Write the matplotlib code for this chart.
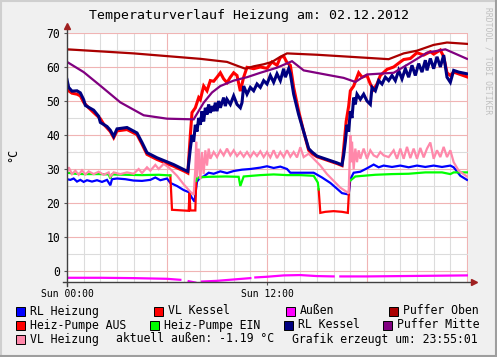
import numpy as np
import matplotlib
matplotlib.use("Agg")
import matplotlib.pyplot as plt
from matplotlib.patches import Rectangle
from matplotlib.lines import Line2D

nan = np.nan

# --- data (hours since midnight, degrees C) ---
puffer_oben_h = [0, 4, 8, 9.6, 10.3, 10.7, 11.2, 11.8, 12.3, 12.8, 13.2, 15, 17, 19.3, 20.2, 21, 22, 22.8, 24]
puffer_oben_v = [65.2, 64.0, 62.4, 61.5, 60.2, 59.5, 60.2, 60.8, 61.5, 63.0, 64.0, 63.6, 63.0, 62.3, 64.0, 64.8, 66.5, 67.2, 66.8]

puffer_mitte_h = [0, 1, 2, 3.2, 4.6, 6, 7.6, 8.2, 8.7, 9.2, 10, 10.8, 11.6, 12.6, 13.5, 14.2, 15.5, 16.6, 17.3,
                  18, 19.6, 20.6, 21.6, 22.7, 24]
puffer_mitte_v = [61.5, 58.5, 54.5, 49.6, 45.8, 44.8, 44.6, 49.5, 52.5, 54.4, 56.0, 57.0, 58.3, 59.8, 61.7, 59.0,
                  57.8, 56.8, 55.6, 57.8, 58.3, 61.2, 64.2, 65.2, 62.4]

rl_kessel_h = [0, 0.1, 0.3, 0.6, 0.8, 1.0, 1.1, 1.6, 1.9, 2.0, 2.4, 2.6, 2.8, 3.0, 3.6, 4.2, 4.5, 4.8, 5.4, 6.4,
               7.1, 7.25, 7.4, 7.5, 7.6, 7.7, 7.8, 7.9, 8.0, 8.1, 8.2, 8.3, 8.4, 8.5, 8.6, 8.7, 8.8, 8.9, 9.0,
               9.1, 9.2, 9.4, 9.5, 9.6, 9.8, 10.0, 10.2, 10.4, 10.5, 10.6, 10.8, 11.0, 11.2, 11.4, 11.6, 11.8,
               12.0, 12.2, 12.4, 12.6, 12.8, 13.0, 13.1, 13.3, 13.4, 13.6, 13.9, 14.2, 14.5, 14.7, 15.0, 15.6,
               16.2, 16.5, 16.6, 16.7, 16.8, 16.9, 17.0, 17.1, 17.2, 17.3, 17.4, 17.6, 17.8, 18.0, 18.2, 18.3,
               18.5, 18.7, 18.9, 19.1, 19.3, 19.5, 19.7, 19.9, 20.1, 20.3, 20.5, 20.7, 20.9, 21.1, 21.3, 21.5,
               21.6, 21.8, 22.0, 22.2, 22.4, 22.6, 22.8, 23.0, 23.2, 23.5, 24]
rl_kessel_v = [56.3, 54.0, 52.9, 53.0, 52.4, 50.4, 48.7, 47.3, 45.5, 43.7, 42.5, 41.4, 39.6, 41.8, 42.2, 40.6,
               37.8, 34.8, 33.3, 31.3, 29.6, 29.3, 36, 40, 38, 43, 41, 45, 43, 47, 44, 48, 46, 49, 46.5, 48.5,
               47, 49.5, 47, 50, 48, 51, 48.5, 50.5, 49, 51.5, 49, 48, 49.5, 54.4, 52, 54, 53, 55, 54, 56, 55,
               57.5, 55.5, 58, 56, 59.5, 57, 59.5, 58, 52, 46, 41, 36, 35, 33.8, 32.8, 31.8, 31.2, 34, 38, 43,
               41, 47, 45, 51, 49, 52, 50.5, 52, 50, 49, 54, 53, 56, 55, 57, 56, 57.5, 56, 59, 56.5, 59.5, 57,
               60.5, 57.5, 61, 58.5, 62, 59, 62.5, 59.5, 63, 60, 63.5, 57, 55.5, 59, 58.5, 58]

vl_kessel_h = [0, 0.1, 0.3, 0.6, 0.8, 1.0, 1.3, 1.6, 2.0, 2.2, 2.6, 2.8, 3.0, 3.6, 4.2, 4.5, 4.8, 5.4, 6.4, 7.1,
               7.25, 7.4, 7.5, 7.7, 7.9, 8.0, 8.2, 8.4, 8.6, 8.8, 9.0, 9.2, 9.4, 9.6, 9.8, 10.0, 10.2, 10.4,
               10.6, 10.8, 11.2, 11.6, 12.0, 12.3, 12.6, 12.8, 13.0, 13.2, 13.4, 13.6, 13.9, 14.2, 14.5, 14.7,
               15.0, 15.6, 16.2, 16.5, 16.6, 16.75, 16.9, 17.0, 17.2, 17.5, 17.7, 18.0, 18.2, 18.4, 18.6, 18.8,
               19.2, 19.6, 20.0, 20.2, 20.6, 21.0, 21.4, 21.8, 22.0, 22.4, 22.6, 22.8, 23.0, 23.2, 24]
vl_kessel_v = [55.0, 53.0, 52.3, 52.0, 51.5, 49.6, 48.0, 46.6, 44.8, 43.2, 41.0, 39.2, 41.2, 41.6, 40.1, 37.3,
               34.3, 32.8, 30.8, 29.2, 28.8, 40, 46.6, 48, 51, 50.4, 54.4, 53, 56, 55.8, 57, 58.3, 56.5, 55.4,
               57, 58.3, 57.5, 52.9, 57, 59.9, 59.5, 60, 59.6, 61.5, 60.5, 62.8, 63.2, 61.3, 60.5, 54, 47, 41,
               35.5, 34.5, 33.6, 32.6, 31.6, 31.0, 36, 44, 48.5, 53, 54.4, 58.3, 57, 57.5, 55, 53.4, 55, 57.5,
               59.3, 60, 61.5, 62.2, 62.5, 64.2, 63.5, 64.5, 63.8, 65, 63, 58.3, 57.5, 58.5, 57.1]

vl_heizung_h = [0, 0.1, 0.3, 0.5, 0.7, 0.9, 1.1, 1.3, 1.6, 1.9, 2.2, 2.5, 2.6, 2.8, 3.2, 3.6, 4.0, 4.3, 4.5, 4.8,
                5.0, 5.3, 5.5, 5.8, 6.1, 6.3, 6.6, 7.0, 7.4, 7.6, 7.7, 7.75, 7.8, 7.9, 8.0, 8.1, 8.2, 8.3, 8.4,
                8.5, 8.6, 8.8, 9.0, 9.2, 9.4, 9.6, 9.8, 10.0, 10.2, 10.4, 10.6, 10.8, 11.0, 11.2, 11.4, 11.6,
                11.8, 12.0, 12.2, 12.4, 12.6, 12.8, 13.0, 13.2, 13.4, 13.6, 13.8, 14.0, 14.2, 14.5, 14.8, 15.2,
                15.6, 16.0, 16.4, 16.8, 16.9, 17.0, 17.05, 17.1, 17.2, 17.3, 17.4, 17.5, 17.6, 17.8, 18.0, 18.2,
                18.4, 18.6, 18.8, 19.0, 19.3, 19.6, 19.8, 20.0, 20.2, 20.4, 20.6, 20.8, 21.0, 21.2, 21.4, 21.6,
                21.8, 22.0, 22.2, 22.4, 22.6, 22.8, 23.0, 23.2, 23.5, 24]
vl_heizung_v = [29, 30.5, 28.5, 29.5, 28.3, 29.6, 28.4, 29.3, 28.5, 29.2, 28.3, 29.0, 27.8, 29.0, 28.5, 29.0,
                28.6, 30.0, 28.8, 30.5, 29.5, 31.2, 30.0, 31.5, 30.5, 29.5, 28.0, 25.5, 23.3, 22.4, 30, 38, 27.5,
                36, 27, 35, 28.5, 35.5, 31, 36, 33, 35, 33.5, 35.5, 34, 36, 34, 35.5, 33.8, 35, 33.6, 35, 33.5,
                35, 33.8, 35.2, 33.5, 35, 33.4, 35.5, 33.2, 35, 33.5, 35.5, 33.6, 35, 33.4, 36.4, 33.5, 34.5,
                33.0, 31, 28.5, 26.5, 24.5, 23.2, 22.8, 40, 32, 38, 30, 36, 32, 35.5, 33, 36, 33, 35.5, 34, 33.5,
                35, 34, 33.5, 35.5, 33, 36, 33, 36.5, 33.2, 36, 33, 36.2, 33.4, 36, 37.8, 33, 35.5, 33.5, 36.5,
                33.5, 35.5, 32, 29.5, 27.8]

rl_heizung_h = [0, 0.2, 0.4, 0.6, 0.8, 1.0, 1.2, 1.5, 1.8, 2.1, 2.4, 2.6, 2.7, 3.0, 3.5, 4.0, 4.5, 5.0, 5.3, 5.6,
                6.0, 6.2, 6.6, 7.0, 7.3, 7.5, 7.65, 7.8, 8.0, 8.2, 8.5, 8.8, 9.2, 9.6, 10.0, 10.5, 11.0, 11.6,
                12.0, 12.4, 12.8, 13.2, 13.4, 14.0, 14.8, 15.3, 15.8, 16.2, 16.5, 16.9, 17.0, 17.2, 17.6, 18.0,
                18.4, 18.7, 19.0, 19.5, 20.0, 20.5, 21.0, 21.5, 22.0, 22.5, 23.0, 23.2, 23.6, 24]
rl_heizung_v = [27, 26.8, 27.2, 26.3, 26.8, 26.2, 26.7, 26.3, 26.7, 26.2, 26.8, 25.2, 27.0, 27.2, 27.0, 26.6,
                26.5, 26.8, 27.5, 26.7, 27.2, 25.9, 25.0, 23.8, 23.2, 21.5, 20.4, 26.3, 27.5, 27.8, 28.9, 28.6,
                29.3, 28.8, 29.4, 29.8, 30.0, 30.4, 30.8, 30.3, 30.7, 30.0, 28.9, 28.9, 28.9, 27.5, 25.9, 24.2,
                22.9, 22.5, 27, 28.9, 29.2, 30.2, 31.3, 30.5, 31.0, 30.6, 31.0, 30.5, 31.0, 30.6, 31.0, 30.6,
                31.0, 30.5, 28, 26.8]

pumpe_ein_h = [0, 0.5, 1.0, 2.0, 2.5, 2.6, 2.7, 3.5, 4.5, 5.5, 6.2, 6.25, 7.75, 7.8, 8.5, 9.5, 10.3, 10.4, 10.6,
               11.6, 12.4, 13.2, 14.0, 14.8, 15.05, 15.1, 15.15, 16.95, 17.3, 18.5, 19.5, 20.5, 21.5, 22.5, 23.0,
               23.2, 24]
pumpe_ein_v = [28.9, 28.6, 28.5, 28.5, 28.4, 27.2, 28.4, 28.3, 28.2, 28.3, 28.1, nan, 26.5, 27.5, 27.7, 27.8,
               27.7, 25.0, 27.8, 28.2, 28.4, 28.2, 28.2, 28.0, 26.0, 24.0, nan, 26.4, 27.8, 28.3, 28.5, 28.6, 29.0,
               29.0, 28.5, 29.0, 29.0]

pumpe_aus_h = [6.2, 6.3, 7.3, 7.35, 7.4, 7.7, 7.75, 7.76, 15.1, 15.2, 15.5, 16.0, 16.5, 16.85, 16.95]
pumpe_aus_v = [28.1, 18.0, 17.7, 23.0, 17.8, 17.8, 26.5, nan, 24.0, 17.1, 17.4, 17.6, 17.4, 17.1, 26.4]

aussen_h = [0, 2, 4, 6, 6.8, 6.9, 7.3, 7.7, 7.8, 8.1, 9, 10, 11, 11.1, 11.3, 12, 13, 14, 15, 16, 16.2, 16.4,
            18, 20, 22, 24]
aussen_v = [-2.0, -2.0, -2.1, -2.3, -2.6, nan, -3.0, -3.4, nan, -3.1, -2.9, -2.5, -2.1, nan, -1.9, -1.7, -1.3,
            -1.2, -1.5, -1.6, nan, -1.6, -1.6, -1.5, -1.4, -1.3]

series = [
    ("RL Heizung", rl_heizung_h, rl_heizung_v, "#0000ff", 1.6),
    ("VL Kessel", vl_kessel_h, vl_kessel_v, "#ff0000", 2.2),
    ("Außen", aussen_h, aussen_v, "#ff00ff", 1.6),
    ("Puffer Oben", puffer_oben_h, puffer_oben_v, "#aa0000", 1.6),
    ("Heiz-Pumpe AUS", pumpe_aus_h, pumpe_aus_v, "#ff0000", 1.6),
    ("Heiz-Pumpe EIN", pumpe_ein_h, pumpe_ein_v, "#00ff00", 1.6),
    ("RL Kessel", rl_kessel_h, rl_kessel_v, "#000080", 2.2),
    ("Puffer Mitte", puffer_mitte_h, puffer_mitte_v, "#800080", 1.6),
    ("VL Heizung", vl_heizung_h, vl_heizung_v, "#ff88aa", 1.6),
]

W, H = 497, 357
mono = "DejaVu Sans Mono"

fig = plt.figure(figsize=(W / 100, H / 100), dpi=100, facecolor="#f0f0f0")
ax = fig.add_axes([67 / W, 1 - 282 / H, 401 / W, 249 / H])
ax.set_facecolor("white")

for name, hh, vv, col, lw in series:
    ax.plot(hh, vv, color=col, lw=lw, solid_joinstyle="miter", zorder=3)

ax.set_xlim(0, 24.06)
ax.set_ylim(-3.24, 70)

ax.set_xticks([0, 12])
ax.set_xticklabels(["Sun 00:00", "Sun 12:00"], fontfamily=mono, fontsize=7)
ax.set_yticks(range(0, 71, 10))
ax.set_yticklabels([str(v) for v in range(0, 71, 10)], fontfamily=mono, fontsize=8.3)
ax.tick_params(axis="both", length=2, width=0.8, color="#555555", pad=3)

# grid lines
for h in range(1, 25):
    c = "#f0b4b4" if h % 6 == 0 else "#dcdcdc"
    ax.axvline(h, color=c, lw=0.8, zorder=1)
for v in range(0, 71, 5):
    c = "#f0b4b4" if v % 10 == 0 else "#dcdcdc"
    ax.axhline(v, color=c, lw=0.8, zorder=1)

for s in ax.spines.values():
    s.set_visible(False)

# axis lines with arrows
ax.plot([0, 0], [-0.015, 1.025], transform=ax.transAxes, color="#404040", lw=1, clip_on=False, zorder=5)
ax.plot([-0.01, 1.01], [0, 0], transform=ax.transAxes, color="#404040", lw=1, clip_on=False, zorder=5)
ax.plot([0], [1.03], marker="^", ms=4, color="#a02020", transform=ax.transAxes, clip_on=False, zorder=6)
ax.plot([1.015], [0], marker=">", ms=4, color="#a02020", transform=ax.transAxes, clip_on=False, zorder=6)

fig.text(249 / W, 1 - 16 / H, "Temperaturverlauf Heizung am: 02.12.2012", ha="center", va="center",
         fontfamily=mono, fontsize=9.5)
fig.text(13 / W, 1 - 155 / H, "°C", rotation=90, ha="center", va="center", fontfamily=mono, fontsize=8.5)
fig.text(488 / W, 1 - 7 / H, "RRDTOOL / TOBI OETIKER", rotation=270, ha="center", va="top",
         fontfamily=mono, fontsize=5.8, color="#c0c0c0")

# legend
legend_pos = [
    (16, 311), (154, 311), (286, 311), (389, 311),
    (16, 325), (150, 325), (284, 325), (383, 325),
    (16, 339),
]
for (name, hh, vv, col, lw), (bx, by) in zip(series, legend_pos):
    fig.add_artist(Rectangle((bx / W, 1 - (by + 4.5) / H), 9 / W, 9 / H, transform=fig.transFigure,
                             facecolor=col, edgecolor="black", lw=0.7))
    fig.text((bx + 14) / W, 1 - by / H, name, ha="left", va="center", fontfamily=mono, fontsize=8.3)
fig.text(116 / W, 1 - 339 / H, "aktuell außen: -1.19 °C", ha="left", va="center", fontfamily=mono, fontsize=8.3)
fig.text(292 / W, 1 - 339 / H, "Grafik erzeugt um: 23:55:01", ha="left", va="center", fontfamily=mono,
         fontsize=8.3)

# frame shading
fig.add_artist(Line2D([0, 1], [1 - 1 / H, 1 - 1 / H], transform=fig.transFigure, color="#cfcfcf", lw=1.5))
fig.add_artist(Line2D([1 / W, 1 / W], [0, 1], transform=fig.transFigure, color="#cfcfcf", lw=1.5))
fig.add_artist(Line2D([0, 1], [1 / H, 1 / H], transform=fig.transFigure, color="#9e9e9e", lw=1.5))
fig.add_artist(Line2D([1 - 1 / W, 1 - 1 / W], [0, 1], transform=fig.transFigure, color="#9e9e9e", lw=1.5))

fig.savefig("out.png", dpi=100, facecolor=fig.get_facecolor())
